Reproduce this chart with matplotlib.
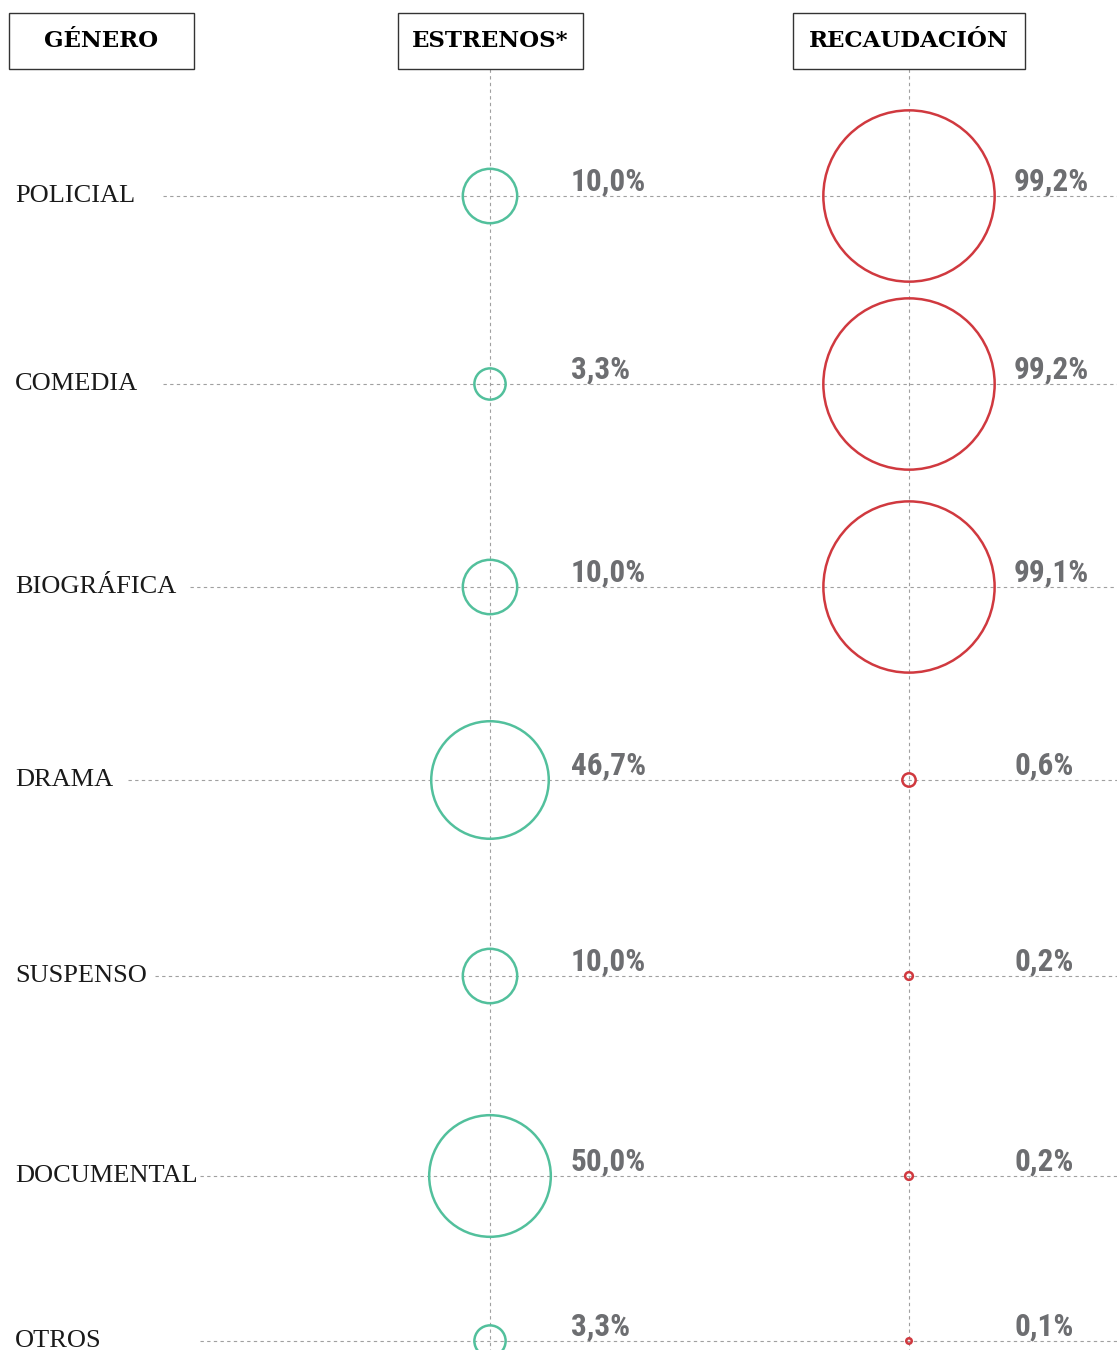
import numpy as np
import matplotlib.pyplot as plt
from matplotlib.patches import Circle, Rectangle

# ── datos ─────────────────────────────────
generos = ["POLICIAL", "COMEDIA", "BIOGRÁFICA", "DRAMA", "SUSPENSO", "DOCUMENTAL", "OTROS"]
estrenos = [10.0, 3.3, 10.0, 46.7, 10.0, 50.0, 3.3]
recaudacion = [99.2, 99.2, 99.1, 0.6, 0.2, 0.2, 0.1]
encabezados = ["GÉNERO", "ESTRENOS*", "RECAUDACIÓN"]

# ── layout (px) ───────────────────────────
W, H = 1117, 1350
fila_y = [196, 384, 587, 780, 976, 1176, 1341]
linea_x0 = [163, 163, 190, 128, 155, 200, 200]
col_est, col_rec = 490, 909
cajas = [(9, 194), (398, 583), (793, 1025)]
K = 8.6  # radio = K * sqrt(valor)

VERDE = "#52c09c"
ROJO = "#d0393f"
GRIS = "#6d6e71"
PUNTOS = "#a0a0a0"
FUENTE_NUM = ["Roboto Condensed", "DejaVu Sans"]

def fmt(v):
    return f"{v:.1f}".replace(".", ",") + "%"

fig = plt.figure(figsize=(W / 100, H / 100), dpi=100)
ax = fig.add_axes([0, 0, 1, 1])
ax.set_xlim(0, W)
ax.set_ylim(H, 0)
ax.axis("off")

dash = dict(color=PUNTOS, lw=0.8, linestyle=(0, (3, 3)), zorder=1)

# encabezados
for (x0, x1), txt in zip(cajas, encabezados):
    ax.add_patch(Rectangle((x0, 13), x1 - x0, 56, fill=False, ec="#333333", lw=1.0, zorder=3))
    ax.text((x0 + x1) / 2, 41, txt, ha="center", va="center", fontsize=16.5,
            fontweight="bold", family="DejaVu Serif", color="black", zorder=4)

# ejes verticales
ax.plot([col_est, col_est], [69, H], **dash)
ax.plot([col_rec, col_rec], [69, H], **dash)

for i, g in enumerate(generos):
    y = fila_y[i]
    ax.text(15, y, g, ha="left", va="center", fontsize=19,
            family="Liberation Serif", color="#1a1a1a")
    ax.plot([linea_x0[i], W], [y, y], **dash)

    r1 = K * np.sqrt(estrenos[i])
    r2 = K * np.sqrt(recaudacion[i])
    ax.add_patch(Circle((col_est, y), r1, fill=False, ec=VERDE, lw=1.8, zorder=2))
    ax.add_patch(Circle((col_rec, y), r2, fill=False, ec=ROJO, lw=1.8, zorder=2))

    ax.text(571, y - 5, fmt(estrenos[i]), ha="left", va="baseline", fontsize=22.5,
            fontweight="bold", fontstretch="condensed", family=FUENTE_NUM, color=GRIS)
    ax.text(1014, y - 5, fmt(recaudacion[i]), ha="left", va="baseline", fontsize=22.5,
            fontweight="bold", fontstretch="condensed", family=FUENTE_NUM, color=GRIS)

fig.savefig("out.png", dpi=100)
